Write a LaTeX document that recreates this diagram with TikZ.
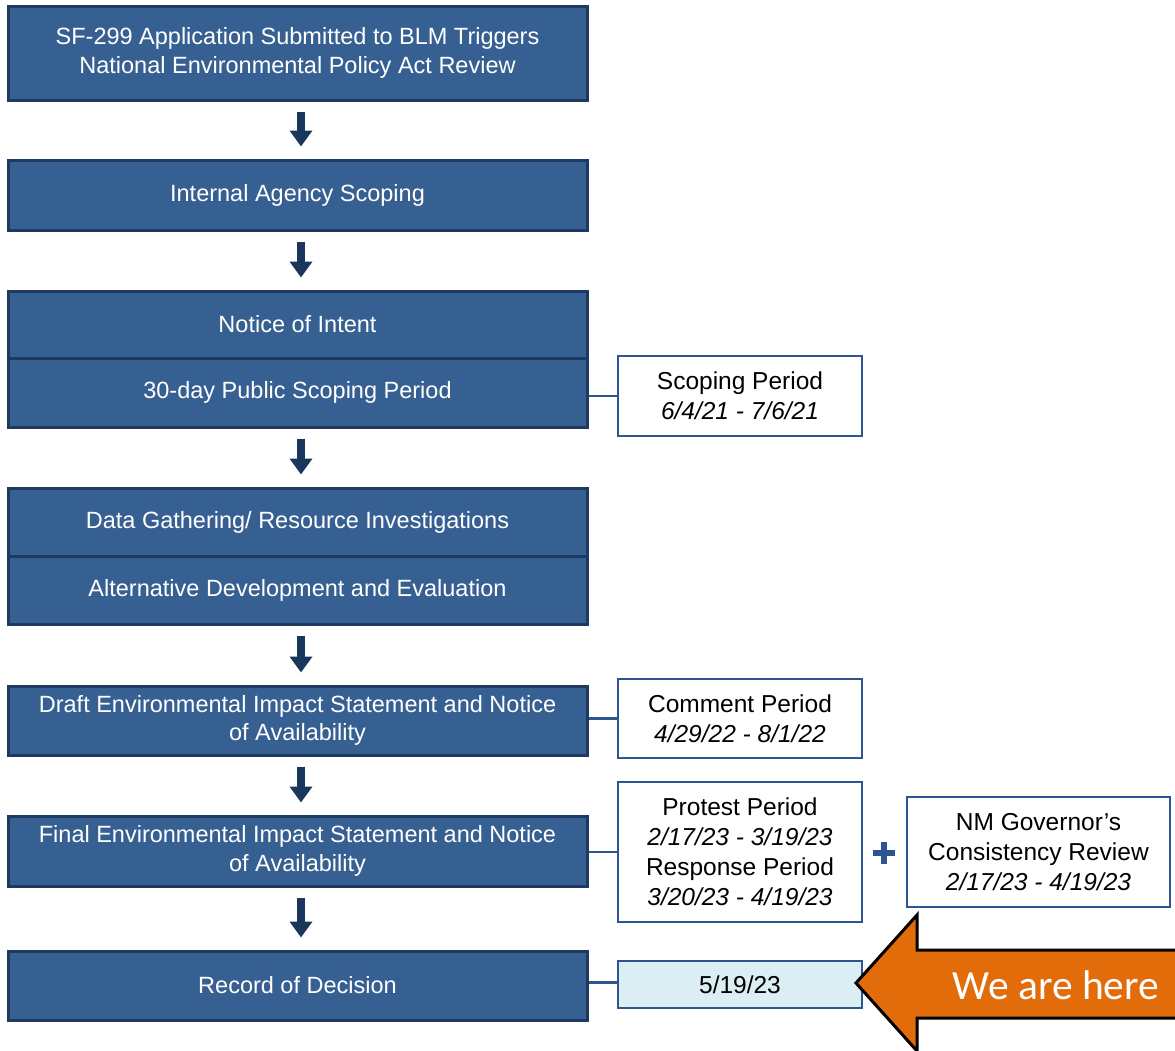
\documentclass[tikz,border=0pt]{standalone}
\usepackage{fontspec}
\setmainfont{Liberation Sans}
\newfontfamily\calfont{Carlito}
\usetikzlibrary{arrows.meta}
\definecolor{bluef}{HTML}{376092}
\definecolor{navyb}{HTML}{1F3A60}
\definecolor{navya}{HTML}{1B365D}
\definecolor{sideb}{HTML}{2F5590}
\definecolor{lightf}{HTML}{DAEEF3}
\definecolor{orangef}{HTML}{E36C0A}
\tikzset{
  flow/.style={draw=navyb, fill=bluef, line width=3pt, text=white,
    font=\fontsize{23.5pt}{28.5pt}\selectfont, minimum width=579pt, align=center, inner sep=0pt},
  side/.style={draw=sideb, fill=white, line width=2.5pt, text=black,
    font=\fontsize{24.5pt}{30pt}\selectfont, minimum width=244pt, align=center, inner sep=0pt},
  link/.style={draw=sideb, line width=2.5pt},
  flowarrow/.style={draw=navya, line width=8pt, -{Triangle[width=22pt,length=16pt]},
    shorten <=10pt, shorten >=12pt},
}
\begin{document}
\begin{tikzpicture}[x=1pt,y=-1pt]
\useasboundingbox (0,0) rectangle (1175,1050);
\clip (0,0) rectangle (1175,1050);
% main flow boxes
\node[flow, minimum height=94pt] (b1) at (297.5,53) {SF-299 Application Submitted to BLM Triggers\\National Environmental Policy Act Review};
\node[flow, minimum height=70pt] (b2) at (297.5,195) {Internal Agency Scoping};
\node[flow, minimum height=67pt] (b3) at (297.5,324.5) {Notice of Intent};
\node[flow, minimum height=69pt] (b4) at (297.5,392.5) {30-day Public Scoping Period};
\node[flow, minimum height=68pt] (b5) at (297.5,522) {Data Gathering/ Resource Investigations};
\node[flow, minimum height=68pt] (b6) at (297.5,590) {Alternative Development and Evaluation};
\node[flow, minimum height=69pt] (b7) at (297.5,720.5) {Draft Environmental Impact Statement and Notice\\of Availability};
\node[flow, minimum height=70pt] (b8) at (297.5,851) {Final Environmental Impact Statement and Notice\\of Availability};
\node[flow, minimum height=69pt] (b9) at (297.5,985.5) {Record of Decision};
% flow arrows
\draw[flowarrow] ([xshift=3.5pt]b1.south) -- ([xshift=3.5pt]b2.north);
\draw[flowarrow] ([xshift=3.5pt]b2.south) -- ([xshift=3.5pt]b3.north);
\draw[flowarrow] ([xshift=3.5pt]b4.south) -- ([xshift=3.5pt]b5.north);
\draw[flowarrow] ([xshift=3.5pt]b6.south) -- ([xshift=3.5pt]b7.north);
\draw[flowarrow] ([xshift=3.5pt]b7.south) -- ([xshift=3.5pt]b8.north);
\draw[flowarrow] ([xshift=3.5pt]b8.south) -- ([xshift=3.5pt]b9.north);
% side boxes
\node[side, minimum height=80pt] (s1) at (740,396) {Scoping Period\\\textit{6/4/21 - 7/6/21}};
\node[side, minimum height=79pt] (s2) at (740,718.5) {Comment Period\\\textit{4/29/22 - 8/1/22}};
\node[side, minimum height=140pt] (s3) at (740,852) {Protest Period\\\textit{2/17/23 - 3/19/23}\\Response Period\\\textit{3/20/23 - 4/19/23}};
\node[side, minimum width=263pt, minimum height=110pt] (s4) at (1038.5,852) {NM Governor’s\\Consistency Review\\\textit{2/17/23 - 4/19/23}};
\node[side, fill=lightf, minimum height=47pt] (s5) at (740,984.5) {5/19/23};
% links
\draw[link] (s1.west -| b4.east) -- (s1.west);
\draw[link] (s2.west -| b7.east) -- (s2.west);
\draw[link] (s3.west -| b8.east) -- (s3.west);
\draw[link] ([yshift=2pt]s5.west -| b9.east) -- ([yshift=2pt]s5.west);
% plus sign
\node[inner sep=0pt, minimum size=22pt] (plus) at (884,853) {};
\draw[sideb, line width=6pt] (plus.north) -- (plus.south) (plus.west) -- (plus.east);
% we are here arrow
\draw[fill=orangef, draw=black, line width=3pt, line join=miter]
  (856,983) -- (917,915) -- (917,950) -- (1190,950) -- (1190,1018) -- (917,1018) -- (917,1051) -- cycle;
\node[text=white, font=\calfont\fontsize{41.5pt}{41.5pt}\selectfont, inner sep=0pt] (here) at (1056,985) {We are here};
\end{tikzpicture}
\end{document}
